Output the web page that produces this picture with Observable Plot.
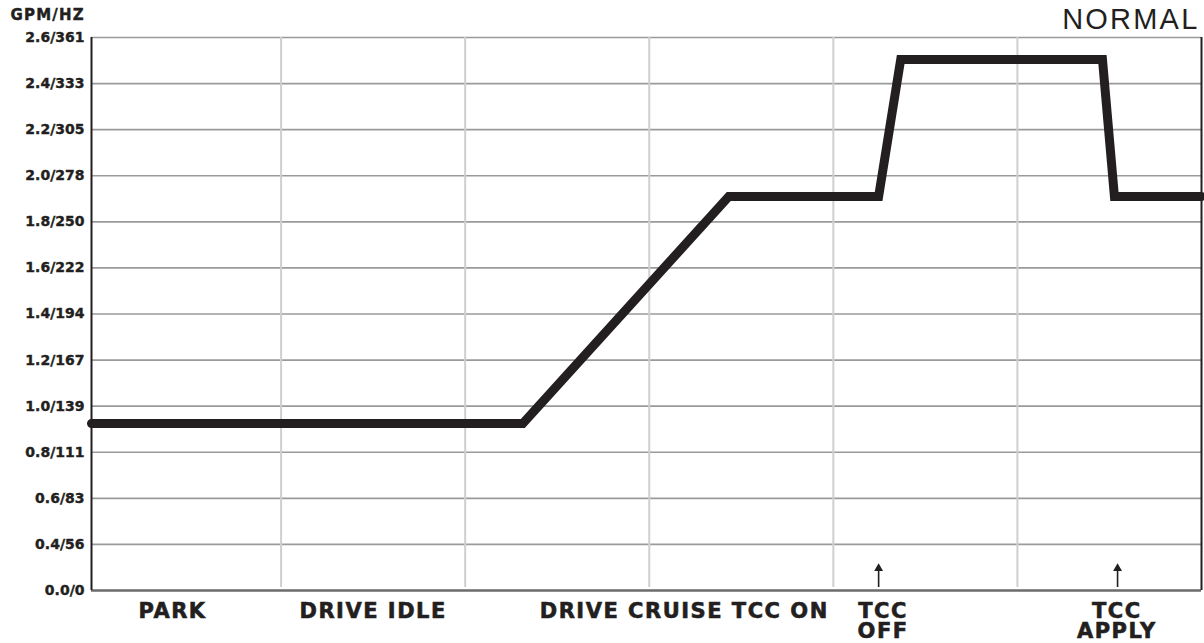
<!DOCTYPE html>
<html>
<head>
<meta charset="utf-8">
<script src="https://cdn.jsdelivr.net/npm/d3@7"></script>
<script src="https://cdn.jsdelivr.net/npm/@observablehq/plot@0.6"></script>
<style>
  html, body { margin: 0; padding: 0; background: #fff; }
  #chart svg { display: block; }
</style>
</head>
<body>
<div id="chart"></div>
<script>
// Y ticks (GPM / Hz), equally spaced rows
const tickValues = [0.2, 0.4, 0.6, 0.8, 1.0, 1.2, 1.4, 1.6, 1.8, 2.0, 2.2, 2.4, 2.6];
const tickLabels = ["0.0/0", "0.4/56", "0.6/83", "0.8/111", "1.0/139", "1.2/167", "1.4/194",
                    "1.6/222", "1.8/250", "2.0/278", "2.2/305", "2.4/333", "2.6/361"];

// Operating stages along the x axis
const stages = ["PARK", "DRIVE IDLE", "DRIVE CRUISE TCC ON", "TCC\nOFF", "TCC\nAPPLY"];
const stageX = [0.41, 1.50, 3.19, 4.27, 5.54];
const columnLines = [1, 2, 3, 4, 5];

// Event arrows
const arrowX = [4.246, 5.544];

// Flow trace
const flowX = [-0.03, 2.313, 3.432, 4.246, 4.366, 5.462, 5.527, 6];
const flowY = [0.925, 0.925, 1.91, 1.91, 2.505, 2.505, 1.91, 1.91];

const unitTitle = "GPM/HZ";
const modeTitle = "NORMAL";

const flow = flowX.map((x, i) => ({x, y: flowY[i]}));
const stageData = stages.map((s, i) => ({label: s, x: stageX[i]}));
const ink = "#231f20";
const fmt = new Map(tickValues.map((v, i) => [v, tickLabels[i]]));

const chart = Plot.plot({
  width: 1204,
  height: 643,
  marginLeft: 91,
  marginRight: 3,
  marginTop: 37,
  marginBottom: 53,
  style: {fontFamily: "'DejaVu Sans', sans-serif", color: ink, background: "#fff", overflow: "visible"},
  x: {domain: [-0.03, 6], axis: null},
  y: {domain: [0.2, 2.6]},
  marks: [
    Plot.ruleY(tickValues.slice(1), {stroke: "#9a9a9a", strokeWidth: 1.6}),
    Plot.ruleX(columnLines, {y1: 2.6, y2: 0.213, stroke: "#cfcfcf", strokeWidth: 2}),
    Plot.ruleY([0.2], {stroke: "#6b6b6b", strokeWidth: 2.5}),
    Plot.ruleX([-0.03], {stroke: ink, strokeWidth: 2}),
    Plot.ruleX([6], {stroke: ink, strokeWidth: 2}),
    Plot.axisY({
      ticks: tickValues,
      tickFormat: d => fmt.get(d),
      tickSize: 0,
      tickPadding: 7,
      fontSize: 14,
      fontWeight: "bold",
      label: null
    }),
    Plot.line(flow, {x: "x", y: "y", stroke: ink, strokeWidth: 9, strokeLinejoin: "miter", strokeMiterlimit: 10}),
    Plot.ruleX(arrowX, {y1: 0.213, y2: 0.29, stroke: ink, strokeWidth: 1.6}),
    Plot.dot(arrowX, {x: d => d, y: 0.296, symbol: "triangle", r: 3.3, fill: ink, stroke: "none"}),
    Plot.text(stageData, {
      x: "x", y: 0.2, text: "label", lineAnchor: "top", dy: 14,
      fontSize: 21, fontWeight: "bold", lineHeight: 0.93, fill: ink
    }),
    Plot.text([unitTitle], {
      frameAnchor: "top-left", textAnchor: "start", lineAnchor: "bottom",
      dx: -81, dy: -18, fontSize: 15, fontWeight: "bold", fill: ink
    }),
    Plot.text([modeTitle], {
      frameAnchor: "top-right", textAnchor: "end", lineAnchor: "bottom",
      dx: -4, dy: -9, fontSize: 29, fontFamily: "'Liberation Sans', Arial, sans-serif",
      fill: ink
    })
  ]
});

// letter spacing / weight to match the heavy poster-style lettering
const stageSet = new Set(stages.map(s => s.replace(/\n/g, "")));
const tickSet = new Set(tickLabels);
d3.select(chart).selectAll("text").each(function() {
  const t = this.textContent;
  if (stageSet.has(t)) {
    this.style.letterSpacing = "1.5px";
    this.style.stroke = ink; this.style.strokeWidth = "0.6px";
  } else if (tickSet.has(t)) {
    this.style.stroke = ink; this.style.strokeWidth = "0.4px";
  } else if (t === unitTitle) {
    this.style.letterSpacing = "1.2px";
    this.style.stroke = ink; this.style.strokeWidth = "0.4px";
  } else if (t === modeTitle) {
    this.style.letterSpacing = "2.2px";
    this.setAttribute("dx", (+this.getAttribute("dx") || 0) + 2);
  }
});
document.getElementById("chart").appendChild(chart);
</script>
</body>
</html>
